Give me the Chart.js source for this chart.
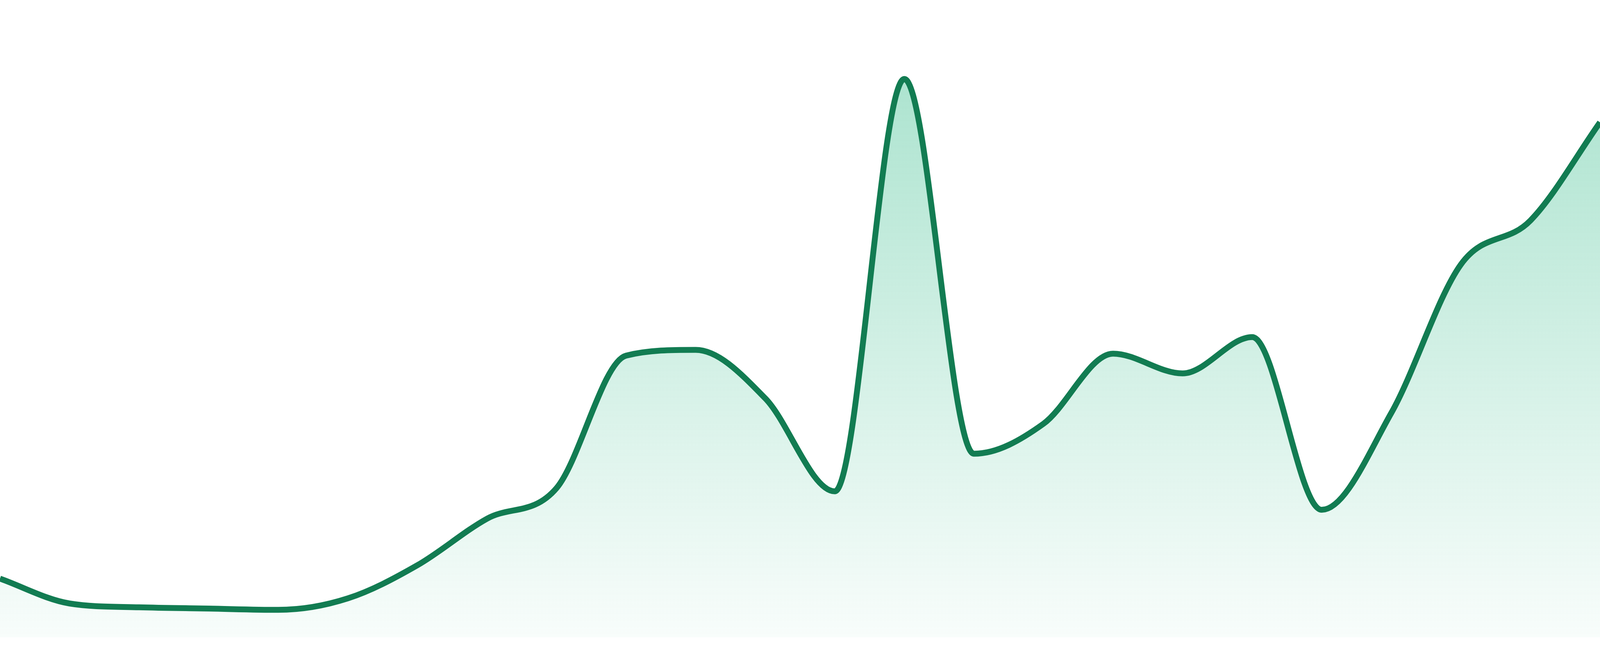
<!DOCTYPE html>
<html>
<head>
<meta charset="utf-8">
<script src="https://cdn.jsdelivr.net/npm/chart.js@4/dist/chart.umd.min.js"></script>
<style>
	html, body { margin: 0; padding: 0; background: #ffffff; overflow: hidden; }
	#wrap { position: relative; width: 100vw; height: 100vh; }
</style>
</head>
<body>
<div id="wrap"><canvas id="areaChart"></canvas></div>
<script>
// x positions, one per reading
var labels = ['1', '2', '3', '4', '5', '6', '7', '8', '9', '10', '11', '12',
	'13', '14', '15', '16', '17', '18', '19', '20', '21', '22', '23', '24'];

// readings (axis runs 0..100)
var values = [9.2, 5.3, 4.7, 4.5, 4.3, 6.1, 11.3, 18.6, 23.4, 44.2, 45.1, 37.5,
	22.9, 87.6, 28.8, 33.5, 44.5, 41.4, 47.1, 20.0, 35.2, 58.5, 65.4, 80.8];

var yMin = 0;
var yMax = 100;

// the picture is 1680 high, keep line and bottom margin in that proportion
var k = document.getElementById('wrap').clientHeight / 1680;

var ctx = document.getElementById('areaChart').getContext('2d');

function greenFade(context) {
	var area = context.chart.chartArea;
	if (!area) {
		return 'rgba(30, 180, 125, 0.2)';
	}
	var g = context.chart.ctx.createLinearGradient(0, area.top, 0, area.bottom);
	g.addColorStop(0, 'rgba(30, 180, 125, 0.41)');
	g.addColorStop(1, 'rgba(30, 180, 125, 0.03)');
	return g;
}

var chart = new Chart(ctx, {
	type: 'line',
	data: {
		labels: labels,
		datasets: [{
			label: 'value',
			data: values,
			borderColor: '#127c52',
			borderWidth: 15 * k,
			backgroundColor: greenFade,
			fill: 'start',
			pointRadius: 0,
			pointHoverRadius: 0,
			cubicInterpolationMode: 'monotone'
		}]
	},
	options: {
		responsive: true,
		maintainAspectRatio: false,
		animation: false,
		layout: {
			autoPadding: false,
			padding: { top: 0, right: 0, bottom: 48 * k, left: 0 }
		},
		plugins: {
			legend: { display: false },
			tooltip: { enabled: false }
		},
		scales: {
			x: { display: false, offset: false },
			y: { display: false, min: yMin, max: yMax }
		}
	}
});
</script>
</body>
</html>
